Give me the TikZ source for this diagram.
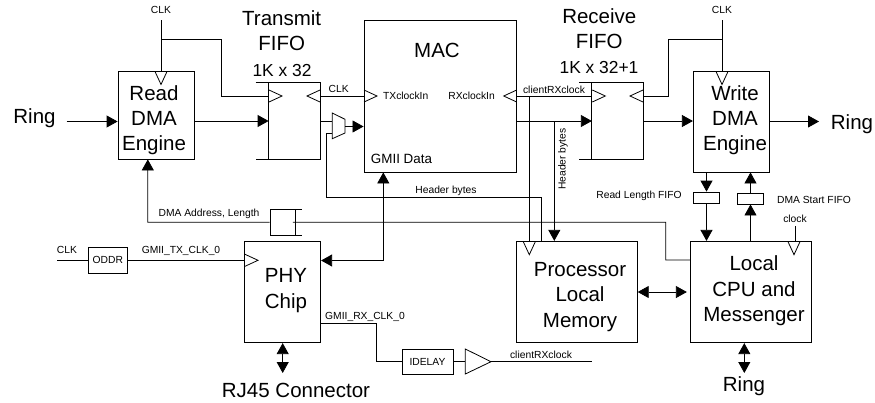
\documentclass[tikz,border=0pt]{standalone}
\usepackage{fontspec}
\setmainfont{Liberation Sans}
\usetikzlibrary{arrows.meta}
\tikzset{
blockbox/.style={draw,inner sep=0pt},
fifobox/.style={inner sep=0pt},
bigtext/.style={inner sep=0pt,align=center,font=\fontsize{20.5}{25.2}\selectfont},
midtext/.style={inner sep=0pt,font=\fontsize{17.4}{20}\selectfont},
datatext/.style={inner sep=0pt,font=\fontsize{13.4}{16}\selectfont},
smalltext/.style={inner sep=0pt,font=\fontsize{10.3}{12}\selectfont}
}
\begin{document}
\begin{tikzpicture}[x=1pt,y=-1pt,line width=0.8pt,>={Triangle[length=11pt,width=12pt]}]
\useasboundingbox (0,0) rectangle (875,402);
\path
(66.7,121.5) coordinate (RingInEnd)
(819,121.5) coordinate (RingOutEnd)
(161,20) coordinate (ClkA)
(161,39) coordinate (ClkAJoin)
(221,39) coordinate (ClkABend)
(221,96) coordinate (ClkAIn)
(722,20) coordinate (ClkB)
(722,39) coordinate (ClkBJoin)
(668,39) coordinate (ClkBBend)
(668,96) coordinate (ClkBIn)
(795,226) coordinate (ClkC)
(57,260.3) coordinate (ClkD)
(332.3,121) coordinate (MuxInA)
(332.3,133) coordinate (MuxInB)
(345,126.5) coordinate (MuxOut)
(326,133) coordinate (HdrA)
(326,197) coordinate (HdrB)
(541.7,197) coordinate (HdrC)
(383.3,260.5) coordinate (GmiiBend)
(529.3,96) coordinate (RxClkJoin)
(554.3,121.5) coordinate (RxDataJoin)
(147.8,222.3) coordinate (AddrBend)
(665.7,222.3) coordinate (AddrB)
(665.7,260) coordinate (AddrC)
(320.7,323.7) coordinate (RxClkA)
(376.7,323.7) coordinate (RxClkB)
(376.7,361.7) coordinate (RxClkC)
(592.3,361.7) coordinate (RxClkEnd)
(282.7,373) coordinate (PhyEnd)
(744.3,373) coordinate (CpuEnd);
% blocks
\node[blockbox,minimum width=76,minimum height=88] (ReadDMA) at (156,115) {};
\node[blockbox,minimum width=152.7,minimum height=152] (MAC) at (440.3,96) {};
\node[blockbox,minimum width=76.4,minimum height=101] (WriteDMA) at (731.5,121.5) {};
\node[blockbox,minimum width=76.4,minimum height=101.4] (PHY) at (282.5,292) {};
\node[blockbox,minimum width=120.6,minimum height=101.4] (ProcMem) at (577,292) {};
\node[blockbox,minimum width=120.3,minimum height=101.4] (CPU) at (750.9,292) {};
\node[blockbox,minimum width=38.5,minimum height=25.7] (ODDR) at (107.8,260.2) {};
\node[blockbox,minimum width=51,minimum height=25] (IDELAY) at (427.5,361.5) {};
\node[blockbox,minimum width=25.6,minimum height=11] (ReadLen) at (706.5,197.5) {};
\node[blockbox,minimum width=25.6,minimum height=10.7] (DMAStart) at (750.5,198.7) {};
\node[fifobox,minimum width=51,minimum height=76] (TxFIFO) at (294.5,121) {};
\node[fifobox,minimum width=50.7,minimum height=76] (RxFIFO) at (617.6,121) {};
\node[blockbox,minimum width=25.5,minimum height=25.7] (AddrFIFO) at (282.8,222.2) {};
% block texts
\node[bigtext] (ReadDMAText) at (154,120) {Read\\DMA\\Engine};
\node[bigtext] (MACText) at (437,50) {MAC};
\node[bigtext] (WriteDMAText) at (735,120) {Write\\DMA\\Engine};
\node[bigtext] (PHYText) at (286,290.5) {PHY\\Chip};
\node[bigtext] (ProcMemText) at (580,297) {Processor\\Local\\Memory};
\node[bigtext] (CPUText) at (754,290.7) {Local\\CPU and\\Messenger};
\node[smalltext] at (ODDR) {ODDR};
\node[smalltext] at (IDELAY) {IDELAY};
\node[smalltext,anchor=west] (TxClkIn) at (382.7,96) {TXclockIn};
\node[smalltext,anchor=west] (RxClkIn) at (448,96) {RXclockIn};
\node[datatext] (GmiiData) at (401.5,159) {GMII Data};
% titles and labels
\node[bigtext] (TxTitle) at (281.7,31) {Transmit\\FIFO};
\node[midtext] (TxSize) at (282,71) {1K x 32};
\node[bigtext] (RxTitle) at (599.3,28.5) {Receive\\FIFO};
\node[midtext] (RxSize) at (599,68) {1K x 32+1};
\node[bigtext] (RingIn) at (34.5,118) {Ring};
\node[bigtext] (RingOut) at (852,124) {Ring};
\node[bigtext] (RingCpu) at (744,386) {Ring};
\node[bigtext] (RJ45) at (296,390) {RJ45 Connector};
\node[smalltext] (ClkALabel) at (161,10) {CLK};
\node[smalltext] (ClkBLabel) at (722,10) {CLK};
\node[smalltext] (ClkCLabel) at (795,219) {clock};
\node[smalltext] (ClkDLabel) at (67,250) {CLK};
\node[smalltext] (ClkTxLabel) at (338.7,89) {CLK};
\node[smalltext] (ClkRxLabel) at (554,89.5) {clientRXclock};
\node[smalltext] (HdrLabel) at (446,190.5) {Header bytes};
\node[smalltext,rotate=90] (HdrVLabel) at (563,159) {Header bytes};
\node[smalltext] (ReadLenLabel) at (639,196) {Read Length FIFO};
\node[smalltext] (DMAStartLabel) at (814,200) {DMA Start FIFO};
\node[smalltext] (AddrLabel) at (209,214) {DMA Address, Length};
\node[smalltext] (TxClkLabel) at (181,250.5) {GMII\_TX\_CLK\_0};
\node[smalltext] (RxClkLabel) at (365,317) {GMII\_RX\_CLK\_0};
\node[smalltext] (RxOutLabel) at (541,355) {clientRXclock};
% fifo outlines
\draw ([xshift=-13]TxFIFO.north west)--(TxFIFO.north east)--(TxFIFO.south east)--([xshift=-13]TxFIFO.south west);
\draw (TxFIFO.north west)--(TxFIFO.south west);
\draw ([xshift=-13]RxFIFO.north west)--(RxFIFO.north east)--(RxFIFO.south east)--([xshift=-13]RxFIFO.south west);
\draw (RxFIFO.north west)--(RxFIFO.south west);
\draw (AddrFIFO.north east)--([xshift=6.5]AddrFIFO.north east);
\draw (AddrFIFO.south east)--([xshift=6.5]AddrFIFO.south east);
% clock marks
\foreach \px/\py/\ang in {161/71.5/270,269/96/0,320/96/180,364/96/0,516.7/96/180,592.3/96/0,643/96/180,722/71.5/270,245/260.3/0,529.3/241.7/270,794/241.7/270}
\draw[shift={(\px,\py)},rotate=\ang] (0,-6)--(13,0)--(0,6);
% mux and buffer
\draw (332.3,113)--(345,119.3)--(345,133)--(332.3,138.7)--cycle;
\draw (465.3,349)--(491,361.7)--(465.3,374)--cycle;
% data paths
\draw[->] (RingInEnd)--(ReadDMA.west|-RingInEnd);
\draw[->] (ReadDMA.east|-TxFIFO.west)--(TxFIFO.west);
\draw (TxFIFO.east)--(MuxInA);
\draw[->] (MuxOut)--(MAC.west|-MuxOut);
\draw[->] (MAC.east|-RxFIFO.west)--(RxFIFO.west);
\draw[->] (RxFIFO.east)--(WriteDMA.west|-RxFIFO.east);
\draw[->] (WriteDMA.east|-RingOutEnd)--(RingOutEnd);
\draw[->] (RxDataJoin)--(ProcMem.north-|RxDataJoin);
\draw (MuxInB)--(HdrA)--(HdrB)--(HdrC)--(ProcMem.north-|HdrC);
\draw[<->] (MAC.south-|GmiiBend)--(GmiiBend)--(PHY.east|-GmiiBend);
\draw[<->] (PHY.south-|PhyEnd)--(PhyEnd);
\draw[<->] (CPU.south-|CpuEnd)--(CpuEnd);
\draw[<->] (ProcMem.east)--([xshift=-3.5]CPU.west);
\draw[->] (AddrFIFO.west)--(AddrBend)--(ReadDMA.south-|AddrBend);
\draw ([xshift=-3]AddrFIFO.east)--(AddrB)--(AddrC)--(CPU.west|-AddrC);
\draw[->] (WriteDMA.south-|ReadLen.north)--(ReadLen.north);
\draw[->] (ReadLen.south)--(CPU.north-|ReadLen.south);
\draw[->] (CPU.north-|DMAStart.south)--(DMAStart.south);
\draw[->] (DMAStart.north)--(WriteDMA.south-|DMAStart.north);
% clock paths
\draw (ClkA)--(ReadDMA.north-|ClkA);
\draw (ClkAJoin)--(ClkABend)--(ClkAIn)--(TxFIFO.west|-ClkAIn);
\draw (TxFIFO.east|-ClkAIn)--(MAC.west|-ClkAIn);
\draw (ClkB)--(WriteDMA.north-|ClkB);
\draw (ClkBJoin)--(ClkBBend)--(ClkBIn)--(RxFIFO.east|-ClkBIn);
\draw (MAC.east|-RxClkJoin)--(RxFIFO.west|-RxClkJoin);
\draw (RxClkJoin)--(ProcMem.north-|RxClkJoin);
\draw (ClkC)--(CPU.north-|ClkC);
\draw (ClkD)--(ODDR.west|-ClkD);
\draw (ODDR.east|-ClkD)--(PHY.west|-ClkD);
\draw (RxClkA)--(RxClkB)--(RxClkC)--(IDELAY.west|-RxClkC);
\draw (IDELAY.east|-RxClkC)--(465.3,361.7);
\draw (491,361.7)--(RxClkEnd);
\end{tikzpicture}
\end{document}
